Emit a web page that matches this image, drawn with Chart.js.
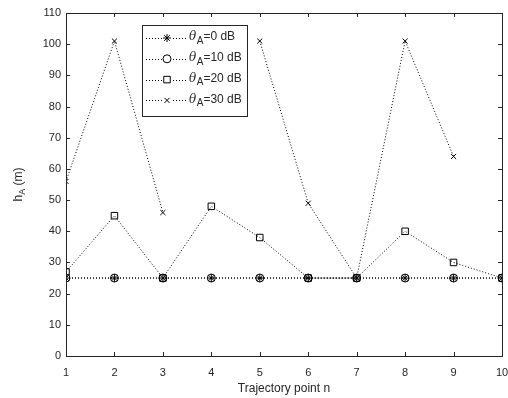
<!DOCTYPE html>
<html lang="en">
<head>
    <meta charset="UTF-8">
    <title>Trajectory point height</title>
    <script src="https://cdn.jsdelivr.net/npm/chart.js"></script>
    <style>
        body { margin: 0; background: #fff; }
        #wrap { width: 508px; height: 398px; }
    </style>
</head>
<body>
    <div id="wrap"><canvas id="chart"></canvas></div>
<script>
    // data
    const points = [1, 2, 3, 4, 5, 6, 7, 8, 9, 10];
    const theta0 = [25, 25, 25, 25, 25, 25, 25, 25, 25, 25];
    const theta10 = [25, 25, 25, 25, 25, 25, 25, 25, 25, 25];
    const theta20 = [27, 45, 25, 48, 38, 25, 25, 40, 30, 25];
    const theta30 = [56, 101, 46, null, 101, 49, 25, 101, 64, null];
    const seriesNames = ["0", "10", "20", "30"];
    const yTicks = [0, 10, 20, 30, 40, 50, 60, 70, 80, 90, 100, 110];

    const FONT = "'Liberation Sans', Arial, sans-serif";
    const AXIS = "#262626";

    function toXY(values) {
        return values.map((v, i) => ({ x: points[i], y: v }));
    }

    const markers = [
        { style: "star", radius: 4 },
        { style: "circle", radius: 4 },
        { style: "rect", radius: 4.6 },
        { style: "crossRot", radius: 3.6 }
    ];

    const datasets = [theta0, theta10, theta20, theta30].map((vals, i) => ({
        label: seriesNames[i],
        data: toXY(vals),
        borderColor: "#000",
        borderWidth: 1,
        borderDash: [1, 2],
        pointStyle: markers[i].style,
        pointRadius: markers[i].radius,
        pointBorderColor: "#000",
        pointBackgroundColor: "rgba(0,0,0,0)",
        pointBorderWidth: 1,
        fill: false,
        tension: 0,
        spanGaps: false,
        order: 4 - i
    }));

    // box around plot, inward ticks, titles, legend
    const decor = {
        id: "decor",
        afterDraw(chart) {
            const ctx = chart.ctx;
            const a = chart.chartArea;
            const xs = chart.scales.x, ys = chart.scales.y;
            ctx.save();
            ctx.strokeStyle = AXIS;
            ctx.lineWidth = 1;
            ctx.strokeRect(Math.round(a.left) + 0.5, Math.round(a.top) + 0.5,
                Math.round(a.right - a.left), Math.round(a.bottom - a.top));
            const tl = 4;
            ctx.beginPath();
            points.forEach(p => {
                const x = Math.round(xs.getPixelForValue(p)) + 0.5;
                ctx.moveTo(x, a.bottom); ctx.lineTo(x, a.bottom - tl);
                ctx.moveTo(x, a.top); ctx.lineTo(x, a.top + tl);
            });
            yTicks.forEach(t => {
                const y = Math.round(ys.getPixelForValue(t)) + 0.5;
                ctx.moveTo(a.left, y); ctx.lineTo(a.left + tl, y);
                ctx.moveTo(a.right, y); ctx.lineTo(a.right - tl, y);
            });
            ctx.stroke();

            // x title
            ctx.fillStyle = AXIS;
            ctx.font = "12px " + FONT;
            ctx.textAlign = "center";
            ctx.textBaseline = "middle";
            ctx.fillText("Trajectory point n", (a.left + a.right) / 2, 389);

            // y title with subscript
            ctx.save();
            ctx.translate(19, (a.top + a.bottom) / 2);
            ctx.rotate(-Math.PI / 2);
            ctx.textAlign = "left";
            ctx.textBaseline = "middle";
            ctx.font = "12px " + FONT;
            const w1 = ctx.measureText("h").width;
            ctx.font = "9px " + FONT;
            const w2 = ctx.measureText("A").width;
            ctx.font = "12px " + FONT;
            const w3 = ctx.measureText(" (m)").width;
            let x0 = -(w1 + w2 + w3) / 2;
            ctx.fillText("h", x0, 0);
            ctx.font = "9px " + FONT;
            ctx.fillText("A", x0 + w1, 4);
            ctx.font = "12px " + FONT;
            ctx.fillText(" (m)", x0 + w1 + w2, 0);
            ctx.restore();

            // legend
            const lx = 142, ly = 25, lw = 105, lh = 91;
            ctx.fillStyle = "#fff";
            ctx.fillRect(lx, ly, lw, lh);
            ctx.strokeStyle = AXIS;
            ctx.strokeRect(lx + 0.5, ly + 0.5, lw, lh);
            chart.data.datasets.forEach((ds, i) => {
                const cy = 38 + i * 20.8;
                ctx.save();
                ctx.strokeStyle = "#000";
                ctx.lineWidth = 1;
                ctx.setLineDash([1, 2]);
                ctx.beginPath();
                ctx.moveTo(146, Math.round(cy) + 0.5);
                ctx.lineTo(187, Math.round(cy) + 0.5);
                ctx.stroke();
                ctx.setLineDash([]);
                ctx.fillStyle = "#fff";
                ctx.fillRect(162, cy - 5, 10, 10);
                Chart.helpers.drawPoint(ctx, {
                    pointStyle: ds.pointStyle, radius: ds.pointRadius,
                    rotation: 0, borderWidth: 1
                }, 167, cy);
                ctx.restore();

                ctx.fillStyle = AXIS;
                ctx.textAlign = "left";
                ctx.textBaseline = "middle";
                ctx.font = "italic 12px 'DejaVu Serif', serif";
                let tx = 189;
                ctx.fillText("\u03b8", tx, cy - 1);
                tx += ctx.measureText("\u03b8").width + 0.5;
                ctx.font = "10px " + FONT;
                ctx.fillText("A", tx, cy + 3);
                tx += ctx.measureText("A").width;
                ctx.font = "12px " + FONT;
                ctx.fillText("=" + ds.label + " dB", tx, cy - 1);
            });
            ctx.restore();
        }
    };

    new Chart(document.getElementById("chart"), {
        type: "line",
        data: { datasets: datasets },
        options: {
            responsive: true,
            maintainAspectRatio: false,
            animation: false,
            layout: { padding: { left: 0, right: 0, top: 13, bottom: 0 } },
            plugins: { legend: { display: false }, tooltip: { enabled: false } },
            scales: {
                x: {
                    type: "linear",
                    min: 1, max: 10,
                    grid: { display: false, drawTicks: false },
                    border: { display: false },
                    afterBuildTicks: s => { s.ticks = points.map(v => ({ value: v })); },
                    afterFit: s => { s.height = 42; s.paddingRight = 6; s.paddingLeft = 0; },
                    ticks: { color: AXIS, font: { family: FONT, size: 11 }, padding: 10, maxRotation: 0 }
                },
                y: {
                    min: 0, max: 110,
                    grid: { display: false, drawTicks: false },
                    border: { display: false },
                    afterBuildTicks: s => { s.ticks = yTicks.map(v => ({ value: v })); },
                    afterFit: s => { s.width = 66; s.paddingTop = 0; s.paddingBottom = 0; },
                    ticks: { color: AXIS, font: { family: FONT, size: 11 }, padding: 5 }
                }
            }
        },
        plugins: [decor]
    });
</script>
</body>
</html>
